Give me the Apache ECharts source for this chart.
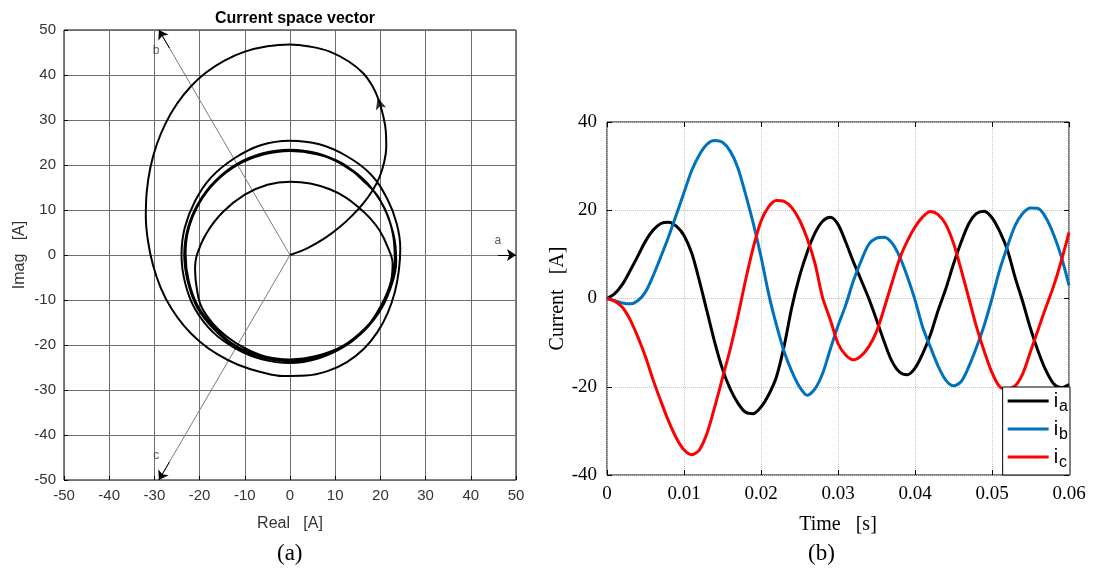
<!DOCTYPE html>
<html>
<head>
<meta charset="utf-8">
<title>Current space vector / phase currents</title>
<script src="https://cdn.jsdelivr.net/npm/echarts@6/dist/echarts.min.js"></script>
<style>
html, body { margin: 0; padding: 0; background: #fff; }
#chart { width: 1093px; height: 576px; }
</style>
</head>
<body>
<div id="chart"></div>
<script>
// (a) space vector trajectory: [real, imag]
var vectorPath = [
  // start at origin, first big loop
  [0,0],[4,1.6],[7.8,3.8],[11,6.2],[13.8,8.8],[16.3,11.6],[18.3,14.4],[19.8,17.3],[20.8,20.5],[21.3,24],
  [21.2,27.5],[20.6,31],[19.6,34.5],[18.2,37.6],[16.2,40.4],[13,43],[8.8,45.2],[4.5,46.3],
  [0,46.8],[-5,46.4],[-10,45.2],[-14.5,43.2],[-18.5,40.6],[-22,37.4],[-25,33.6],[-27.5,29.3],[-29.5,24.5],[-30.9,19.4],
  [-31.7,14],[-31.9,8.5],[-31.4,3],[-30.3,-2.3],[-28.6,-7.3],[-26.3,-11.8],[-23.4,-15.8],[-20,-19.2],[-16,-22.1],[-11.5,-24.4],
  [-6.5,-26],[-1.5,-26.9],[3.5,-26.8],[8.3,-25.8],[12.6,-23.8],[16.3,-20.9],[19.3,-17.2],[21.6,-12.9],[23.2,-8.2],[24.1,-3.3],
  [24.4,1.5],
  // outer ring
  [23.6,7],[21.5,12.5],[17.8,18],[12.5,22],[6.5,24.6],[0,25.4],[-6.5,24.4],[-12.3,21.5],[-17.5,17.2],[-21,12],
  [-23.3,6],[-24,0],[-23.2,-6.2],[-21,-12],[-17,-17.2],[-12,-20.8],[-6.2,-23.2],[0,-24],[6.2,-23],[11.8,-20.5],
  [16.5,-16.6],[20,-11.5],[22.3,-6],[22.7,-1.9],
  // inner loop
  [21.6,1.8],[19.8,5.5],[17.6,8.3],[15.4,10.4],[12.3,12.8],[8.8,14.6],[4.5,15.9],[0,16.3],[-5,15.6],
  [-10,13.4],[-14.8,9.6],[-18.5,4.8],[-20.6,0],[-21,-3.3],[-20.6,-7.6],[-19.6,-11.5],[-17,-15.3],[-14,-18.1],[-10.2,-20.6],
  [-5.3,-22.6],[0,-23.3],[5.4,-22.8],[10.4,-20.9],[15.6,-17.6],[19.6,-12.8],[22.2,-7.5],[23.2,-2.5],
  // settled rings
  [23,3],[21.8,8.3],[20.2,11.7],[16.6,16.5],[11.7,20.2],[6,22.6],[0,23.4],[-6,22.6],[-11.8,20.2],[-16.6,16.4],
  [-20.3,11.5],[-22.6,6],[-23.4,0],[-22.6,-6],[-20.5,-11.7],[-16.8,-16.5],[-12,-20.5],[-6.2,-22.8],[0,-23.6],[6.1,-22.7],
  [11.8,-20.4],[16.7,-16.5],[20.3,-11.8],[22.7,-6],[23.5,-1.5],
  [22.8,5],[19.8,12.5],[16.3,16.4],[11.5,20.4],[5.9,22.4],[0,23.1],[-5.9,22.3],[-11.6,20],[-16.4,16.3],
  [-20,11.6],[-22.4,5.9],[-23.1,0.3],[-22.4,-5.8],[-20.3,-11.5],[-16.6,-16.3],[-11.8,-20.3],[-6,-22.5],[0,-23.2],[6,-22.4],
  [11.7,-20.2],[16.5,-16.4],[20.2,-11.6],[22.6,-6],[23.3,-1],
  [22.7,5.3],[19.9,12.2],[16.4,16.5],[11.6,20.1],[6,22.5],[0,23.3],[-6,22.5],[-11.7,20.2],[-16.5,16.5],
  [-20.1,11.8],[-22.5,6],[-23.3,0.2],[-22.5,-5.9],[-20.4,-11.6],[-16.7,-16.4],[-11.9,-20.4],[-6.1,-22.7],[0,-23.5],[6,-22.6],
  [11.6,-20.3],[16.5,-16.5],[20,-11.8],[22.5,-6.2],[23.2,-1.5]
];
var pathArrow = [[19.4, 35]];
var phaseTips = [[50, 0], [-29, 50], [-29, -50]];
var phaseNames = ['a', 'b', 'c'];
var phaseLabelPos = [[46, 3.2], [-29.6, 45.3], [-29.6, -44.6]];
var vecTicks = [-50, 50, 10];

// (b) phase currents, one sample per millisecond
var time = [0,0.001,0.002,0.003,0.004,0.005,0.006,0.007,0.008,0.009,
  0.010,0.011,0.012,0.013,0.014,0.015,0.016,0.017,0.018,0.019,
  0.020,0.021,0.022,0.023,0.024,0.025,0.026,0.027,0.028,0.029,
  0.030,0.031,0.032,0.033,0.034,0.035,0.036,0.037,0.038,0.039,
  0.040,0.041,0.042,0.043,0.044,0.045,0.046,0.047,0.048,0.049,
  0.050,0.051,0.052,0.053,0.054,0.055,0.056,0.057,0.058,0.059,0.060];
var ia = [0,1.1,3.2,6.3,9.6,13.0,15.5,17.0,17.3,16.4,
  14.3,10.3,4.0,-3.0,-10.0,-16.0,-20.5,-23.7,-25.8,-26.1,
  -24.6,-21.8,-17.8,-10.8,-2.0,5.0,10.5,14.8,17.5,18.4,
  16.8,12.8,8.3,4.2,0.0,-4.8,-9.8,-14.2,-16.7,-17.3,
  -15.8,-12.5,-8.2,-2.7,2.2,7.8,12.8,17.0,19.3,19.8,
  18.3,15.2,11.0,4.8,-0.8,-6.8,-12.0,-16.3,-19.3,-20.2,-19.5];
var ib = [0,-0.5,-1.0,-1.2,-0.5,1.5,5.2,9.5,14.0,19.0,
  24.0,29.0,32.6,35.0,35.8,35.4,33.4,29.6,23.6,17.0,
  9.5,1.0,-6.0,-12.0,-16.5,-20.0,-21.9,-20.5,-17.0,-11.5,
  -6.2,-1.5,4.0,8.5,12.3,13.7,13.9,12.6,9.5,5.0,
  -0.3,-6.5,-11.0,-15.3,-18.5,-19.8,-18.8,-15.4,-11.0,-6.0,
  0.0,6.5,11.8,16.5,19.3,20.5,20.4,18.3,14.5,9.5,3.0];
var ic = [0,-0.6,-2.0,-4.8,-8.7,-13.2,-18.5,-23.3,-27.8,-31.6,
  -34.3,-35.4,-34.3,-30.5,-24.5,-18.0,-11.5,-4.0,4.2,11.6,
  17.5,20.8,22.2,22.0,20.6,17.8,13.6,8.0,0.2,-4.8,
  -10.2,-12.8,-13.9,-13.0,-10.9,-7.5,-2.2,3.5,9.0,13.0,
  16.2,18.5,19.7,19.0,16.8,12.5,6.5,0.0,-6.5,-12.0,
  -16.8,-20.0,-20.5,-19.8,-17.0,-12.0,-7.0,-2.0,2.8,8.5,15.0];
var seriesNames = ['ia', 'ib', 'ic'];
var seriesColors = ['#000000', '#0072BD', '#FF0000'];
var timeTicks = [0, 0.06, 0.01];
var currentTicks = [-40, 40, 20];

function pairs(xs, ys) {
  return xs.map(function (x, i) { return [x, ys[i]]; });
}

var chart = echarts.init(document.getElementById('chart'));

var sans = 'Liberation Sans, Arial, sans-serif';
var serif = 'Liberation Serif, Times New Roman, serif';

function hiddenAxis(extra) {
  var ax = {
    gridIndex: 1, type: 'value',
    axisLine: { show: false, onZero: false }, axisLabel: { show: false }, splitLine: { show: false },
    axisTick: { inside: true, length: 5, lineStyle: { color: '#000' } }
  };
  for (var k in extra) ax[k] = extra[k];
  return ax;
}

var option = {
  animation: false,
  backgroundColor: '#fff',
  title: {
    text: 'Current space vector',
    left: 290,
    top: 6,
    textAlign: 'center',
    textStyle: { fontFamily: sans, fontSize: 16, fontWeight: 'bold', color: '#000' }
  },
  legend: {
    right: 23,
    bottom: 101,
    orient: 'vertical',
    data: seriesNames,
    icon: 'rect',
    itemWidth: 41,
    itemHeight: 3,
    itemGap: 4,
    padding: [4, 2, 4, 5],
    backgroundColor: '#fff',
    borderColor: '#000',
    borderWidth: 1,
    borderRadius: 0,
    formatter: function (name) { return '{i|i}{s|' + name.charAt(1) + '}'; },
    textStyle: {
      fontFamily: sans,
      color: '#000',
      rich: {
        i: { fontFamily: sans, fontSize: 20, color: '#000' },
        s: { fontFamily: sans, fontSize: 16, color: '#000', padding: [12, 0, 0, 1] }
      }
    }
  },
  grid: [
    { left: 64, top: 30, width: 452, height: 450, show: true, borderColor: '#000', borderWidth: 1 },
    { left: 607, top: 122, width: 462, height: 353, show: true, borderColor: '#000', borderWidth: 1 }
  ],
  xAxis: [
    {
      gridIndex: 0, type: 'value', min: vecTicks[0], max: vecTicks[1], interval: vecTicks[2],
      name: 'Real   [A]', nameLocation: 'middle', nameGap: 36,
      nameTextStyle: { fontFamily: sans, fontSize: 16, color: '#333' },
      axisLine: { show: false, onZero: false },
      axisTick: { inside: true, length: 4, lineStyle: { color: '#000' } },
      axisLabel: { fontFamily: sans, fontSize: 15, color: '#333', margin: 8 },
      splitLine: { lineStyle: { color: '#6e6e6e', width: 1 } }
    },
    {
      gridIndex: 1, type: 'value', min: timeTicks[0], max: timeTicks[1], interval: timeTicks[2],
      name: 'Time   [s]', nameLocation: 'middle', nameGap: 40,
      nameTextStyle: { fontFamily: serif, fontSize: 20, color: '#000' },
      axisLine: { show: false, onZero: false },
      axisTick: { inside: true, length: 5, lineStyle: { color: '#000' } },
      axisLabel: { fontFamily: serif, fontSize: 19, color: '#000', margin: 10 },
      splitLine: { lineStyle: { color: '#c4c4c4', type: 'dotted', width: 1 } }
    },
    hiddenAxis({ position: 'top', min: timeTicks[0], max: timeTicks[1], interval: timeTicks[2] })
  ],
  yAxis: [
    {
      gridIndex: 0, type: 'value', min: vecTicks[0], max: vecTicks[1], interval: vecTicks[2],
      name: 'Imag   [A]', nameLocation: 'middle', nameGap: 36, nameRotate: 90,
      nameTextStyle: { fontFamily: sans, fontSize: 16, color: '#333' },
      axisLine: { show: false, onZero: false },
      axisTick: { inside: true, length: 4, lineStyle: { color: '#000' } },
      axisLabel: { fontFamily: sans, fontSize: 15, color: '#333', margin: 8 },
      splitLine: { lineStyle: { color: '#6e6e6e', width: 1 } }
    },
    {
      gridIndex: 1, type: 'value', min: currentTicks[0], max: currentTicks[1], interval: currentTicks[2],
      name: 'Current   [A]', nameLocation: 'middle', nameGap: 38, nameRotate: 90,
      nameTextStyle: { fontFamily: serif, fontSize: 20, color: '#000' },
      axisLine: { show: false, onZero: false },
      axisTick: { inside: true, length: 5, lineStyle: { color: '#000' } },
      axisLabel: { fontFamily: serif, fontSize: 19, color: '#000', margin: 10 },
      splitLine: { lineStyle: { color: '#c4c4c4', type: 'dotted', width: 1 } }
    },
    hiddenAxis({ position: 'right', min: currentTicks[0], max: currentTicks[1], interval: currentTicks[2] })
  ],
  series: [
    {
      // phase axes a, b, c
      type: 'lines',
      coordinateSystem: 'cartesian2d',
      xAxisIndex: 0, yAxisIndex: 0,
      symbol: 'none',
      silent: true,
      lineStyle: { color: '#7a7a7a', width: 1, opacity: 1 },
      data: phaseTips.map(function (p) { return { coords: [[0, 0], p] }; })
    },
    {
      // black arrow heads on the phase axes
      type: 'lines',
      coordinateSystem: 'cartesian2d',
      xAxisIndex: 0, yAxisIndex: 0,
      symbol: ['none', 'arrow'],
      symbolSize: 9,
      silent: true,
      lineStyle: { color: '#000', width: 1, opacity: 1 },
      data: phaseTips.map(function (p) { return { coords: [[p[0] * 0.92, p[1] * 0.92], p] }; })
    },
    {
      type: 'scatter',
      xAxisIndex: 0, yAxisIndex: 0,
      symbolSize: 0,
      silent: true,
      label: {
        show: true, position: 'inside',
        fontFamily: sans, fontSize: 12, color: '#333',
        formatter: function (p) { return phaseNames[p.dataIndex]; }
      },
      data: phaseLabelPos
    },
    {
      type: 'line',
      xAxisIndex: 0, yAxisIndex: 0,
      data: vectorPath,
      showSymbol: false,
      smooth: 0.4,
      lineStyle: { color: '#000', width: 2 },
      z: 3
    },
    {
      type: 'scatter',
      xAxisIndex: 0, yAxisIndex: 0,
      data: pathArrow,
      symbol: 'arrow',
      symbolSize: [8, 12],
      symbolRotate: 16,
      itemStyle: { color: '#000' },
      z: 4
    },
    {
      name: seriesNames[0], type: 'line', xAxisIndex: 1, yAxisIndex: 1,
      data: pairs(time, ia), showSymbol: false, smooth: 0.3,
      color: seriesColors[0], lineStyle: { width: 3 }
    },
    {
      name: seriesNames[1], type: 'line', xAxisIndex: 1, yAxisIndex: 1,
      data: pairs(time, ib), showSymbol: false, smooth: 0.3,
      color: seriesColors[1], lineStyle: { width: 3 }
    },
    {
      name: seriesNames[2], type: 'line', xAxisIndex: 1, yAxisIndex: 1,
      data: pairs(time, ic), showSymbol: false, smooth: 0.3,
      color: seriesColors[2], lineStyle: { width: 3 }
    }
  ],
  graphic: [
    { type: 'text', left: 277, top: 542, style: { text: '(a)', font: '23px ' + serif, fill: '#000' } },
    { type: 'text', left: 808, top: 542, style: { text: '(b)', font: '23px ' + serif, fill: '#000' } }
  ]
};

chart.setOption(option);
</script>
</body>
</html>
